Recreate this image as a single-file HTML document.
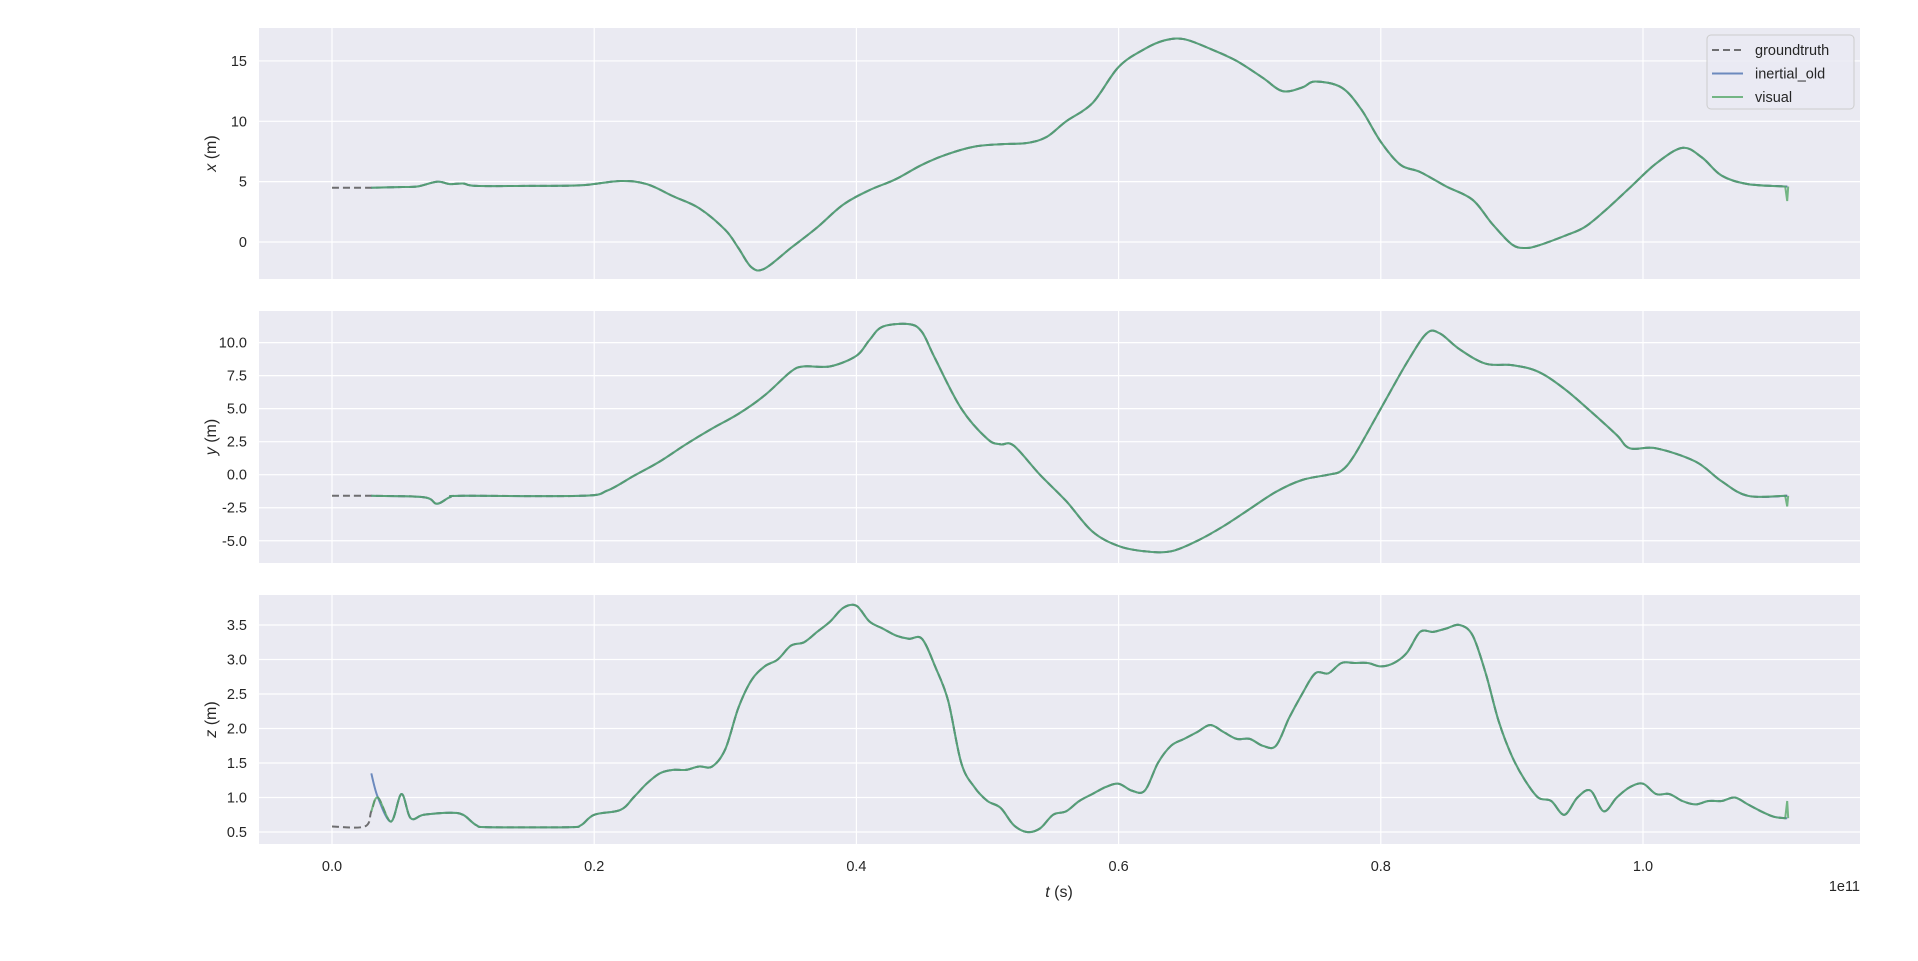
<!DOCTYPE html>
<html><head><meta charset="utf-8"><style>
html,body{margin:0;padding:0;background:#fff;}
svg{display:block;font-family:"Liberation Sans","DejaVu Sans",sans-serif;}
</style></head><body>
<svg id="chart" width="1918" height="961" viewBox="0 0 1918 961" xmlns="http://www.w3.org/2000/svg"></svg>
<script>
// ---- data (t in units of 1e11 s) ----
const xTimes=[0,0.03,0.05,0.065,0.08,0.09,0.1,0.11,0.15,0.19,0.22,0.24,0.26,0.28,0.30,0.31,0.32,0.33,0.35,0.37,0.39,0.41,0.43,0.45,0.47,0.49,0.51,0.53,0.545,0.56,0.58,0.60,0.62,0.635,0.65,0.67,0.69,0.71,0.725,0.74,0.75,0.77,0.785,0.80,0.815,0.83,0.85,0.87,0.885,0.90,0.91,0.92,0.94,0.955,0.97,0.99,1.01,1.03,1.045,1.06,1.08,1.11];
const xValues=[4.5,4.5,4.55,4.6,5.0,4.8,4.85,4.65,4.65,4.7,5.05,4.8,3.8,2.8,1.0,-0.5,-2.1,-2.2,-0.5,1.2,3.1,4.3,5.2,6.4,7.3,7.9,8.1,8.2,8.7,10.0,11.5,14.5,16.0,16.7,16.8,16.0,15.0,13.6,12.5,12.8,13.3,12.8,11.0,8.3,6.4,5.8,4.6,3.5,1.5,-0.2,-0.5,-0.3,0.5,1.2,2.5,4.5,6.5,7.8,7.0,5.5,4.8,4.6];
const yTimes=[0,0.03,0.07,0.08,0.09,0.1,0.19,0.21,0.23,0.25,0.27,0.29,0.31,0.33,0.35,0.36,0.38,0.40,0.41,0.42,0.44,0.45,0.46,0.48,0.50,0.51,0.52,0.54,0.56,0.58,0.60,0.62,0.64,0.66,0.68,0.70,0.72,0.74,0.76,0.77,0.78,0.80,0.82,0.835,0.845,0.86,0.88,0.90,0.92,0.94,0.96,0.98,0.99,1.01,1.04,1.06,1.08,1.11];
const yValues=[-1.6,-1.6,-1.7,-2.2,-1.7,-1.6,-1.6,-1.2,-0.1,1.0,2.3,3.5,4.6,6.0,7.8,8.2,8.2,9.0,10.2,11.2,11.4,10.8,8.8,5.0,2.7,2.3,2.2,0.0,-2.0,-4.3,-5.4,-5.8,-5.8,-5.0,-3.9,-2.6,-1.3,-0.4,0.0,0.3,1.5,5.0,8.5,10.7,10.7,9.5,8.4,8.3,7.8,6.5,4.8,3.0,2.0,2.0,1.0,-0.5,-1.6,-1.6];
const zTimes=[0,0.025,0.03,0.035,0.045,0.053,0.06,0.07,0.09,0.10,0.11,0.12,0.18,0.19,0.20,0.22,0.23,0.24,0.25,0.26,0.27,0.28,0.29,0.30,0.31,0.32,0.33,0.34,0.35,0.36,0.37,0.38,0.39,0.40,0.41,0.42,0.43,0.44,0.45,0.46,0.47,0.48,0.49,0.50,0.51,0.52,0.53,0.54,0.55,0.56,0.57,0.58,0.59,0.60,0.61,0.62,0.63,0.64,0.65,0.66,0.67,0.68,0.69,0.70,0.71,0.72,0.73,0.74,0.75,0.76,0.77,0.78,0.79,0.80,0.81,0.82,0.83,0.84,0.85,0.86,0.87,0.88,0.89,0.90,0.91,0.92,0.93,0.94,0.95,0.96,0.97,0.98,0.99,1.00,1.01,1.02,1.03,1.04,1.05,1.06,1.07,1.08,1.09,1.10,1.11];
const zValues=[0.58,0.58,0.8,1.0,0.65,1.05,0.7,0.75,0.78,0.75,0.6,0.57,0.57,0.6,0.75,0.82,1.0,1.2,1.35,1.4,1.4,1.45,1.45,1.7,2.3,2.7,2.9,3.0,3.2,3.25,3.4,3.55,3.75,3.78,3.55,3.45,3.35,3.3,3.3,2.9,2.4,1.5,1.15,0.95,0.85,0.6,0.5,0.55,0.75,0.8,0.95,1.05,1.15,1.2,1.1,1.1,1.5,1.75,1.85,1.95,2.05,1.95,1.85,1.85,1.75,1.75,2.15,2.5,2.8,2.8,2.95,2.95,2.95,2.9,2.95,3.1,3.4,3.4,3.45,3.5,3.35,2.8,2.1,1.6,1.25,1.0,0.95,0.75,1.0,1.1,0.8,1.0,1.15,1.2,1.05,1.05,0.95,0.9,0.95,0.95,1.0,0.9,0.8,0.72,0.7];
const zInertialStartSpike=1.35;
const xTickLabels=["0.0","0.2","0.4","0.6","0.8","1.0"];
const xTickValues=[0,0.2,0.4,0.6,0.8,1.0];
const panelXTicks=[0,5,10,15];
const panelYTicks=[-5,-2.5,0,2.5,5,7.5,10];
const panelZTicks=[0.5,1,1.5,2,2.5,3,3.5];
const startInertial=0.03;

const NS="http://www.w3.org/2000/svg";
const svg=document.getElementById('chart');
function mk(tag,attrs,parent){const e=document.createElementNS(NS,tag);for(const k in attrs)e.setAttribute(k,attrs[k]);(parent||svg).appendChild(e);return e;}
function smooth(a){
 let d='M'+a[0][0].toFixed(1)+','+a[0][1].toFixed(1);
 for(let i=0;i<a.length-1;i++){
  const p0=a[Math.max(0,i-1)],p1=a[i],p2=a[i+1],p3=a[Math.min(a.length-1,i+2)];
  const c1=[p1[0]+(p2[0]-p0[0])/6,p1[1]+(p2[1]-p0[1])/6];
  const c2=[p2[0]-(p3[0]-p1[0])/6,p2[1]-(p3[1]-p1[1])/6];
  d+=' C'+c1.map(v=>v.toFixed(1)).join(',')+' '+c2.map(v=>v.toFixed(1)).join(',')+' '+p2[0].toFixed(1)+','+p2[1].toFixed(1);
 }
 return d;
}
const L=259,R=1860;
const tx=t=>332+t*1311;
const panels=[
 {name:'x',top:28,bot:279,times:xTimes,vals:xValues,ticks:panelXTicks,fmt:v=>String(v),v0:0,p0:242,scale:12.07,label:'x',spike:-1.2,iStart:null},
 {name:'y',top:311,bot:563,times:yTimes,vals:yValues,ticks:panelYTicks,fmt:v=>v.toFixed(1),v0:0,p0:474.7,scale:13.21,label:'y',spike:-0.8,iStart:null},
 {name:'z',top:595,bot:844,times:zTimes,vals:zValues,ticks:panelZTicks,fmt:v=>v.toFixed(1),v0:0.5,p0:832,scale:69,label:'z',spike:0.25,iStart:zInertialStartSpike}
];
panels.forEach(p=>{
 const g=mk('g',{});
 
 
 const ys=v=>p.p0-(v-p.v0)*p.scale;
 const bg=mk('rect',{x:L,y:p.top,width:R-L,height:p.bot-p.top,fill:'#eaeaf2'},g);
 
 
 xTickValues.forEach((t,i)=>{
  mk('line',{x1:tx(t),x2:tx(t),y1:p.top,y2:p.bot,stroke:'#fff','stroke-width':1.2},g);
  if(p.name==='z'){const lb=mk('text',{x:tx(t),y:871,'font-size':14.5,fill:'#262626','text-anchor':'middle'},svg);lb.textContent=xTickLabels[i];
   
   }
 });
 p.ticks.forEach(v=>{
  mk('line',{x1:L,x2:R,y1:ys(v),y2:ys(v),stroke:'#fff','stroke-width':1.2},g);
  const lb=mk('text',{x:247,y:ys(v)+5,'font-size':14.5,fill:'#262626','text-anchor':'end'},g);
  lb.textContent=p.fmt(v);
  
  
 });
 const yl=mk('text',{x:0,y:0,'font-size':16,fill:'#262626','text-anchor':'middle',transform:`translate(216,${(p.top+p.bot)/2}) rotate(-90)`},g);
 yl.innerHTML=`<tspan font-style="italic">${p.label}</tspan> (m)`;
 
 
 const all=p.times.map((t,i)=>[tx(t),ys(p.vals[i])]);
 const sub=p.times.map((t,i)=>[t,p.vals[i]]).filter(d=>d[0]>=startInertial).map(d=>[tx(d[0]),ys(d[1])]);
 const gt=mk('path',{d:smooth(all),fill:'none',stroke:'#444','stroke-opacity':0.75,'stroke-width':2,'stroke-dasharray':'7,4'},g);
 
 
 let isub=sub.slice();
 if(p.iStart!==null){isub=[[sub[0][0],ys(p.iStart)]].concat(sub.slice(1));}
 const inr=mk('path',{d:smooth(isub),fill:'none',stroke:'#4c72b0','stroke-opacity':0.8,'stroke-width':2},g);
 
 
 const last=sub[sub.length-1];
 const vis=sub.slice(0,-1).concat([[last[0]-2,last[1]]]);
 const vl=mk('path',{d:smooth(vis)+` L${last[0].toFixed(1)},${(last[1]-p.spike*p.scale).toFixed(1)} L${(last[0]+1).toFixed(1)},${last[1].toFixed(1)}`,fill:'none',stroke:'#55a868','stroke-opacity':0.8,'stroke-width':2},g);
 
 
});
const xt=mk('text',{x:1059,y:897,'font-size':16,fill:'#262626','text-anchor':'middle'});
xt.innerHTML='<tspan font-style="italic">t</tspan> (s)';


const off=mk('text',{x:1860,y:891,'font-size':14.5,fill:'#262626','text-anchor':'end'});
off.textContent='1e11';


const lg=mk('g',{});


mk('rect',{x:1707,y:35,width:147,height:74,rx:4,fill:'#eaeaf2','fill-opacity':0.8,stroke:'#ccc'},lg);
[['groundtruth','#444','7,4',0.75],['inertial_old','#4c72b0','',0.8],['visual','#55a868','',0.8]].forEach((e,i)=>{
 const y=50+i*23.5;
 const ln=mk('line',{x1:1712,x2:1743,y1:y,y2:y,stroke:e[1],'stroke-width':2,'stroke-opacity':e[3]},lg);
 if(e[2])ln.setAttribute('stroke-dasharray',e[2]);
 const t=mk('text',{x:1755,y:y+5,'font-size':14.5,fill:'#262626'},lg);
 t.textContent=e[0];
 
 
});
</script>
</body></html>
